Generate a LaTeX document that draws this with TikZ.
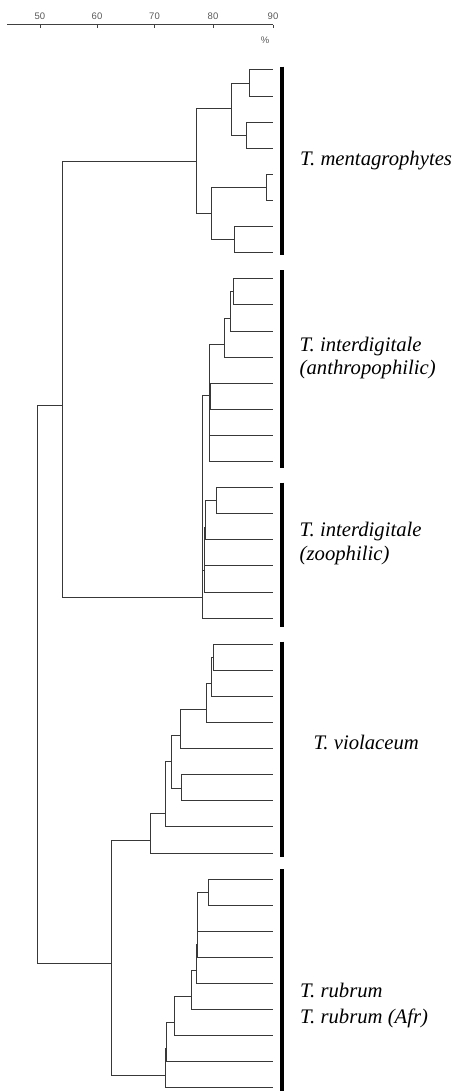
\documentclass[tikz,border=0pt]{standalone}
\usepackage{fontspec}
\setmainfont{Liberation Serif}
\newfontfamily\axisfont{Liberation Sans}
\tikzset{
  branch/.style={draw=black!78, line width=1pt},
  grpbar/.style={draw=black, line width=3.3pt},
  axisline/.style={draw=black!75, line width=1pt},
  lab/.style={anchor=base west, inner sep=0pt, font=\fontsize{20.7}{24}\selectfont\itshape},
  ticklab/.style={anchor=base, inner sep=0pt, font=\axisfont\fontsize{9.5}{11}\selectfont, text=black!65}
}
\newcommand{\brjoin}[3]{\draw[branch] (#1) |- (#2); \draw[branch] (#1) |- (#3);}
\begin{document}
\begin{tikzpicture}[x=1pt,y=-1pt]
\useasboundingbox (0,0) rectangle (457,1091);
% axis
\coordinate (ax0) at (7,25);
\coordinate (ax1) at (273.3,25);
\draw[axisline] (ax0) -- (ax1);
\foreach \v/\xx in {50/40,60/97,70/154.5,80/213,90/273} {
  \coordinate (t\v) at (\xx,25);
  \draw[axisline] (t\v) -- ++(0,3);
  \node[ticklab] (tl\v) at (\xx,19.5) {\v};
}
\node[ticklab] (pct) at (265,44) {\%};
% leaves
\foreach \i in {1,...,40} { \coordinate (L\i) at (273.3,{70+(\i-1)*26.1}); }
% group A
\coordinate (a12) at (249,83.05);
\coordinate (a34) at (246.7,135.25);
\coordinate (a1234) at (231.7,109);
\coordinate (a56) at (266,187.45);
\coordinate (a78) at (234,239.65);
\coordinate (a5678) at (211,213.8);
\coordinate (A) at (196.7,161.7);
\brjoin{a12}{L1}{L2}
\brjoin{a34}{L3}{L4}
\brjoin{a1234}{a12}{a34}
\brjoin{a56}{L5}{L6}
\brjoin{a78}{L7}{L8}
\brjoin{a5678}{a56}{a78}
\brjoin{A}{a1234}{a5678}
% group B
\coordinate (b1) at (233.3,291.9);
\coordinate (b2) at (230,318.3);
\coordinate (b3) at (224.3,344.3);
\coordinate (b4) at (210.1,396);
\coordinate (b5) at (209.7,416);
\coordinate (B) at (209,395.7);
\brjoin{b1}{L9}{L10}
\brjoin{b2}{b1}{L11}
\brjoin{b3}{b2}{L12}
\brjoin{b4}{L13}{L14}
\brjoin{b5}{b4}{L15}
\brjoin{B}{b3}{b5}
\draw[branch] (B) |- (L16);
% group C
\coordinate (c1) at (216,500.7);
\coordinate (c2) at (205.6,527);
\coordinate (c3) at (204.9,546);
\coordinate (c4) at (204.3,570);
\coordinate (BC) at (202.7,597.7);
\brjoin{c1}{L17}{L18}
\brjoin{c2}{c1}{L19}
\brjoin{c3}{c2}{L20}
\brjoin{c4}{c3}{L21}
\brjoin{BC}{B}{c4}
\draw[branch] (BC) |- (L22);
\coordinate (AB) at (62.3,405);
\brjoin{AB}{A}{BC}
% group D
\coordinate (d1) at (213.3,657.7);
\coordinate (d2) at (211,683.3);
\coordinate (d3) at (206,709.3);
\coordinate (d4) at (180,735.7);
\coordinate (d5) at (181,788.3);
\coordinate (d6) at (171.7,761.7);
\coordinate (d7) at (165.7,813.3);
\coordinate (D) at (150,840);
\brjoin{d1}{L23}{L24}
\brjoin{d2}{d1}{L25}
\brjoin{d3}{d2}{L26}
\brjoin{d4}{d3}{L27}
\brjoin{d5}{L28}{L29}
\brjoin{d6}{d4}{d5}
\brjoin{d7}{d6}{L30}
\brjoin{D}{d7}{L31}
% group E
\coordinate (e1) at (208.3,892.3);
\coordinate (e2) at (197.7,911);
\coordinate (e3) at (197.2,944);
\coordinate (e4) at (196.7,970.7);
\coordinate (e5) at (191.7,996);
\coordinate (e6) at (174.3,1022.7);
\coordinate (e7) at (166.5,1048);
\coordinate (E) at (165.3,1075);
\brjoin{e1}{L32}{L33}
\brjoin{e2}{e1}{L34}
\brjoin{e3}{e2}{L35}
\brjoin{e4}{e3}{L36}
\brjoin{e5}{e4}{L37}
\brjoin{e6}{e5}{L38}
\brjoin{e7}{e6}{L39}
\brjoin{E}{e7}{L40}
\coordinate (DE) at (111.7,963.3);
\brjoin{DE}{D}{E}
\coordinate (root) at (37.3,684);
\brjoin{root}{AB}{DE}
% group bars
\coordinate (g1t) at (282,66.7);   \coordinate (g1b) at (282,255);
\coordinate (g2t) at (282,270);    \coordinate (g2b) at (282,468.3);
\coordinate (g3t) at (282,482.7);  \coordinate (g3b) at (282,626.7);
\coordinate (g4t) at (282,641.7);  \coordinate (g4b) at (282,856.7);
\coordinate (g5t) at (282,869);    \coordinate (g5b) at (282,1091);
\draw[grpbar] (g1t) -- (g1b);
\draw[grpbar] (g2t) -- (g2b);
\draw[grpbar] (g3t) -- (g3b);
\draw[grpbar] (g4t) -- (g4b);
\draw[grpbar] (g5t) -- (g5b);
% labels
\node[lab] (lmen) at (300,165.5) {T. mentagrophytes};
\node[lab] (lia1) at (299.5,351.7) {T. interdigitale};
\node[lab] (lia2) at (299.5,374.5) {(anthropophilic)};
\node[lab] (liz1) at (299.5,536.7) {T. interdigitale};
\node[lab] (liz2) at (299.5,560) {(zoophilic)};
\node[lab] (lvio) at (313.3,749.3) {T. violaceum};
\node[lab] (lrub1) at (300,997) {T. rubrum};
\node[lab] (lrub2) at (300,1023) {T. rubrum (Afr)};
\end{tikzpicture}
\end{document}
